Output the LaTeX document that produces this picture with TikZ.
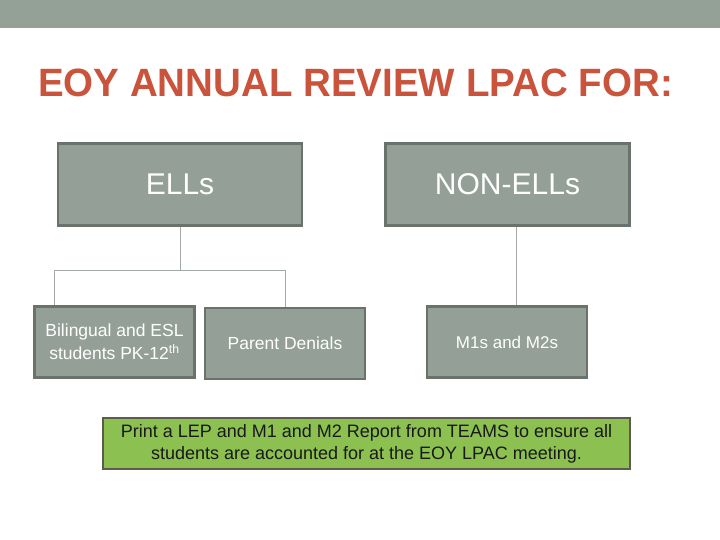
\documentclass[tikz,border=0pt]{standalone}
\usepackage{fontspec}
\setmainfont{Liberation Sans}
\usepackage{xcolor}
\usepackage{tikz}
\usetikzlibrary{positioning}
\definecolor{sagebar}{HTML}{93A196}
\definecolor{sagebox}{HTML}{939F97}
\definecolor{sageedge}{HTML}{69736C}
\definecolor{titlered}{HTML}{C9533B}
\definecolor{linkgray}{HTML}{A3A9A5}
\definecolor{leafgreen}{HTML}{8CC152}
\definecolor{leafedge}{HTML}{5E5B4C}
\tikzset{
  box/.style={draw=sageedge,line width=2.5pt,fill=sagebox,text=white,align=center,inner sep=0pt},
  topbox/.style={box,minimum width=244pt,minimum height=82pt,font=\fontsize{30}{34}\selectfont},
  subbox/.style={box,minimum width=160pt,minimum height=71pt,font=\fontsize{17.5}{23}\selectfont},
  link/.style={draw=linkgray,line width=1pt}
}
\begin{document}
\begin{tikzpicture}[x=1pt,y=-1pt]
\useasboundingbox (0,0) rectangle (720,540);
\fill[sagebar] (0,0) rectangle (720,28);
\node[text=titlered,font=\fontsize{39.5}{44}\selectfont\bfseries,inner sep=0pt] (title) at (355.5,83)
  {\scalebox{0.975}[1]{EOY ANNUAL REVIEW LPAC FOR:}};
% top row
\node[topbox] (ells) at (180,184.5) {ELLs};
\node[topbox] (nonells) at (507.5,184.5) {NON-ELLs};
% second row
\node[subbox] (biling) at (114.5,342) {Bilingual and ESL\\students PK-12\textsuperscript{th}};
\node[subbox] (denial) at (285,343.5) {Parent Denials};
\node[subbox,font=\fontsize{17}{21}\selectfont] (mones) at (507,342) {M1s and M2s};
% note
\node[draw=leafedge,line width=2.5pt,fill=leafgreen,text=black!90,align=center,
      minimum width=527pt,minimum height=51pt,inner sep=0pt,
      font=\fontsize{18}{22}\selectfont] (report) at (366.5,443.5)
  {Print a LEP and M1 and M2 Report from TEAMS to ensure all\\students are accounted for at the EOY LPAC meeting.};
% connectors
\coordinate (split) at (180,270);
\coordinate (splitl) at (54,270);
\coordinate (splitr) at (285,270);
\draw[link] (ells.south) -- (split);
\draw[link] (splitl) -- (splitr);
\draw[link] (splitl) -- (splitl |- biling.north);
\draw[link] (splitr) -- (denial.north);
\draw[link] (nonells.south -| 516,0) -- (mones.north -| 516,0);
\end{tikzpicture}
\end{document}
